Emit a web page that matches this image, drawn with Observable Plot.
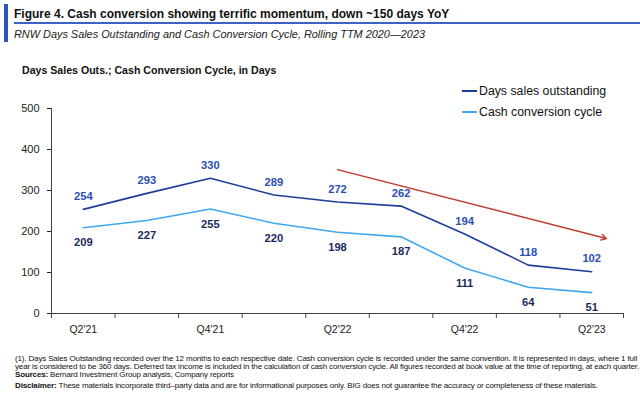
<!DOCTYPE html>
<html><head><meta charset="utf-8">
<script src="https://cdn.jsdelivr.net/npm/d3@7"></script>
<script src="https://cdn.jsdelivr.net/npm/@observablehq/plot@0.6"></script>
<style>
body{margin:0;background:#fff;font-family:"Liberation Sans",Arial,sans-serif;}
#wrap{position:relative;width:640px;height:401px;overflow:hidden;}
.abs{position:absolute;white-space:nowrap;}
#bar{left:4px;top:4px;width:4px;height:38px;background:#2d57b5;}
#uline{left:14px;top:22px;width:626px;height:2px;background:#3d62c2;}
#title{left:14px;top:7px;font-weight:bold;font-size:12px;color:#111;}
#sub{left:14px;top:28px;font-style:italic;font-size:10.9px;color:#222;}
#hdr{left:22px;top:64px;font-weight:bold;font-size:10.6px;color:#111;}
#plot{left:0;top:60px;}
.leg{font-size:12.3px;color:#111;}
.leg span{display:inline-block;width:15px;height:2px;vertical-align:middle;margin-right:2px;position:relative;top:-1px;}
.fn{left:15px;font-size:8px;line-height:9px;color:#111;letter-spacing:-0.15px;}
</style></head>
<body><div id="wrap">
<div id="bar" class="abs"></div>
<div id="title" class="abs">Figure 4. Cash conversion showing terrific momentum, down ~150 days YoY</div>
<div id="uline" class="abs"></div>
<div id="sub" class="abs">RNW Days Sales Outstanding and Cash Conversion Cycle, Rolling TTM 2020—2023</div>
<div id="hdr" class="abs">Days Sales Outs.; Cash Conversion Cycle, in Days</div>
<div id="plot" class="abs"></div>
<div class="abs leg" style="left:462px;top:84px;"><span style="background:#1f3d9c"></span>Days sales outstanding</div>
<div class="abs leg" style="left:462px;top:105px;"><span style="background:#3ea8ee"></span>Cash conversion cycle</div>
<div class="abs fn" style="top:354px;">(1). Days Sales Outstanding recorded over the 12 months to each respective date. Cash conversion cycle is recorded under the same convention. It is represented in days, where 1 full</div>
<div class="abs fn" style="top:362px;">year is considered to be 360 days. Deferred tax income is included in the calculation of cash conversion cycle. All figures recorded at book value at the time of reporting, at each quarter.</div>
<div class="abs fn" style="top:370px;"><b>Sources:</b> Bernard Investment Group analysis, Company reports</div>
<div class="abs fn" style="top:381px;"><b>Disclaimer:</b> These materials incorporate third–party data and are for informational purposes only. BIG does not guarantee the accuracy or completeness of these materials.</div>
</div>
<script>
const quarters = ["Q2'21","Q3'21","Q4'21","Q1'22","Q2'22","Q3'22","Q4'22","Q1'23","Q2'23"];
const dso = [254, 293, 330, 289, 272, 262, 194, 118, 102];
const ccc = [209, 227, 255, 220, 198, 187, 111, 64, 51];
const yTicks = [0, 100, 200, 300, 400, 500];
const labeledQuarters = [0, 2, 4, 6, 8];
const trendStart = {i: 4, v: 351};
const trendEnd = {i: 8.23, v: 183};

const dsoData = quarters.map((q, i) => ({i, q, v: dso[i]}));
const cccData = quarters.map((q, i) => ({i, q, v: ccc[i]}));
const bounds = d3.range(quarters.length + 1).map(k => k - 0.5);

const chart = Plot.plot({
  width: 640, height: 280,
  marginTop: 48, marginBottom: 27, marginLeft: 51, marginRight: 17,
  style: {fontFamily: "'Liberation Sans', Arial, sans-serif", fontSize: "10.5px", color: "#222", background: "transparent"},
  x: {domain: [-0.5, quarters.length - 0.5]},
  y: {domain: [0, 500]},
  marks: [
    Plot.axisY({ticks: yTicks, tickSize: 4, tickPadding: 8, label: null, fontSize: 11, fill: "#222"}),
    Plot.axisX({ticks: labeledQuarters, tickSize: 0, tickPadding: 12, tickFormat: i => quarters[i], label: null, fontSize: 10.5, fill: "#222"}),
    Plot.axisX({ticks: bounds, tickSize: 5, tickFormat: () => "", label: null, stroke: "#444"}),
    Plot.ruleY([0], {stroke: "#444"}),
    Plot.ruleX([-0.5], {stroke: "#444"}),
    Plot.line(dsoData, {x: "i", y: "v", stroke: "#1f3d9c", strokeWidth: 1.6}),
    Plot.line(cccData, {x: "i", y: "v", stroke: "#3ea8ee", strokeWidth: 1.6}),
    Plot.text(dsoData, {x: "i", y: "v", text: "v", dy: -13, fill: "#2b4fb5", fontWeight: "bold", fontSize: 11.2}),
    Plot.text(cccData, {x: "i", y: "v", text: "v", dy: 15, fill: "#1b2a60", fontWeight: "bold", fontSize: 11.2}),
    Plot.arrow([{x1: trendStart.i, y1: trendStart.v, x2: trendEnd.i, y2: trendEnd.v}], {x1: "x1", y1: "y1", x2: "x2", y2: "y2", stroke: "#c0392b", strokeWidth: 1.4, headLength: 6, bend: 0})
  ]
});
document.getElementById("plot").appendChild(chart);
</script>
</body></html>
